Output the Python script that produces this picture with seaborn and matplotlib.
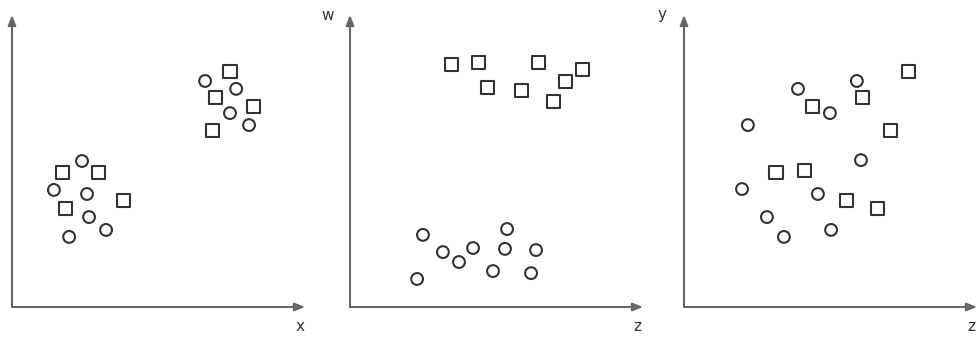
import matplotlib
matplotlib.use("Agg")
import matplotlib.pyplot as plt
import seaborn as sns
import pandas as pd

sns.set_theme(style="white")
plt.rcParams['font.family'] = ['DejaVu Sans']

# Panel 1: x vs y
p1_sq_x = [74.4, 69.6, 82.3, 68.3, 17.1, 29.4, 37.9, 18.1]
p1_sq_y = [80.8, 71.9, 68.8, 60.3, 46.2, 45.9, 36.6, 33.6]
p1_ci_x = [65.9, 76.5, 74.4, 80.9, 23.9, 14.3, 25.6, 26.3, 32.1, 19.5]
p1_ci_y = [77.4, 74.7, 66.4, 62.3, 50.0, 40.1, 38.7, 30.8, 26.4, 24.0]

# Panel 2: z vs w
p2_sq_x = [34.8, 44.0, 46.8, 58.4, 64.2, 79.5, 73.7, 69.3]
p2_sq_y = [82.9, 83.6, 75.3, 74.0, 83.6, 81.2, 77.1, 70.5]
p2_ci_x = [24.9, 31.7, 37.2, 42.0, 22.9, 53.6, 52.9, 48.8, 63.5, 61.8]
p2_ci_y = [24.7, 18.8, 15.4, 20.2, 9.6, 26.7, 19.9, 12.3, 19.5, 11.6]

# Panel 3: z vs y
p3_sq_x = [76.5, 60.8, 43.7, 70.6, 31.4, 41.0, 55.3, 65.9]
p3_sq_y = [80.8, 71.9, 68.8, 60.3, 45.9, 46.6, 36.6, 33.6]
p3_ci_x = [38.9, 59.0, 49.8, 21.8, 60.4, 19.8, 45.7, 28.3, 34.1, 50.2]
p3_ci_y = [74.7, 77.4, 66.4, 62.3, 50.3, 40.4, 38.7, 30.8, 24.0, 26.4]

x_labels = ["x", "z", "z"]
y_labels = ["", "w", "y"]

panels = [
    (p1_sq_x, p1_sq_y, p1_ci_x, p1_ci_y),
    (p2_sq_x, p2_sq_y, p2_ci_x, p2_ci_y),
    (p3_sq_x, p3_sq_y, p3_ci_x, p3_ci_y),
]

W, H = 977, 342
fig = plt.figure(figsize=(W / 100, H / 100), dpi=100)
fig.patch.set_facecolor("white")

lefts = [12, 350, 684]
ax_w, ax_h = 293, 292
bottom_px = 307

marker_color = "#333333"
axis_color = "#666666"

for i, (sx, sy, cx, cy) in enumerate(panels):
    ax = fig.add_axes([lefts[i] / W, (H - bottom_px) / H, ax_w / W, ax_h / H])
    df_sq = pd.DataFrame({"h": sx, "v": sy})
    df_ci = pd.DataFrame({"h": cx, "v": cy})
    sns.scatterplot(data=df_sq, x="h", y="v", marker="s",
                    s=88, facecolor="none", edgecolor=marker_color,
                    linewidth=1.5, legend=False, ax=ax)
    sns.scatterplot(data=df_ci, x="h", y="v", marker="o",
                    s=72, facecolor="none", edgecolor=marker_color,
                    linewidth=1.5, legend=False, ax=ax)
    ax.set_xlim(0, 100)
    ax.set_ylim(0, 100)
    ax.set_xticks([])
    ax.set_yticks([])
    ax.set_xlabel("")
    ax.set_ylabel("")
    for sp in ax.spines.values():
        sp.set_visible(False)
    ax.patch.set_alpha(0)
    arrow = dict(arrowstyle="-|>,head_length=0.5,head_width=0.2",
                 color=axis_color, lw=1.5, shrinkA=0, shrinkB=0)
    ax.annotate("", xy=(1, 0), xytext=(0, 0), xycoords="axes fraction",
                arrowprops=arrow, annotation_clip=False)
    ax.annotate("", xy=(0, 1), xytext=(0, 0), xycoords="axes fraction",
                arrowprops=arrow, annotation_clip=False)
    ax.text(0.982, -0.068, x_labels[i], transform=ax.transAxes,
            ha="center", va="center", fontsize=11, color="#333333")
    if y_labels[i]:
        ax.text(-0.075, 1.0, y_labels[i], transform=ax.transAxes,
                ha="center", va="center", fontsize=11, color="#333333")

fig.savefig("out.png", dpi=100, facecolor="white")
